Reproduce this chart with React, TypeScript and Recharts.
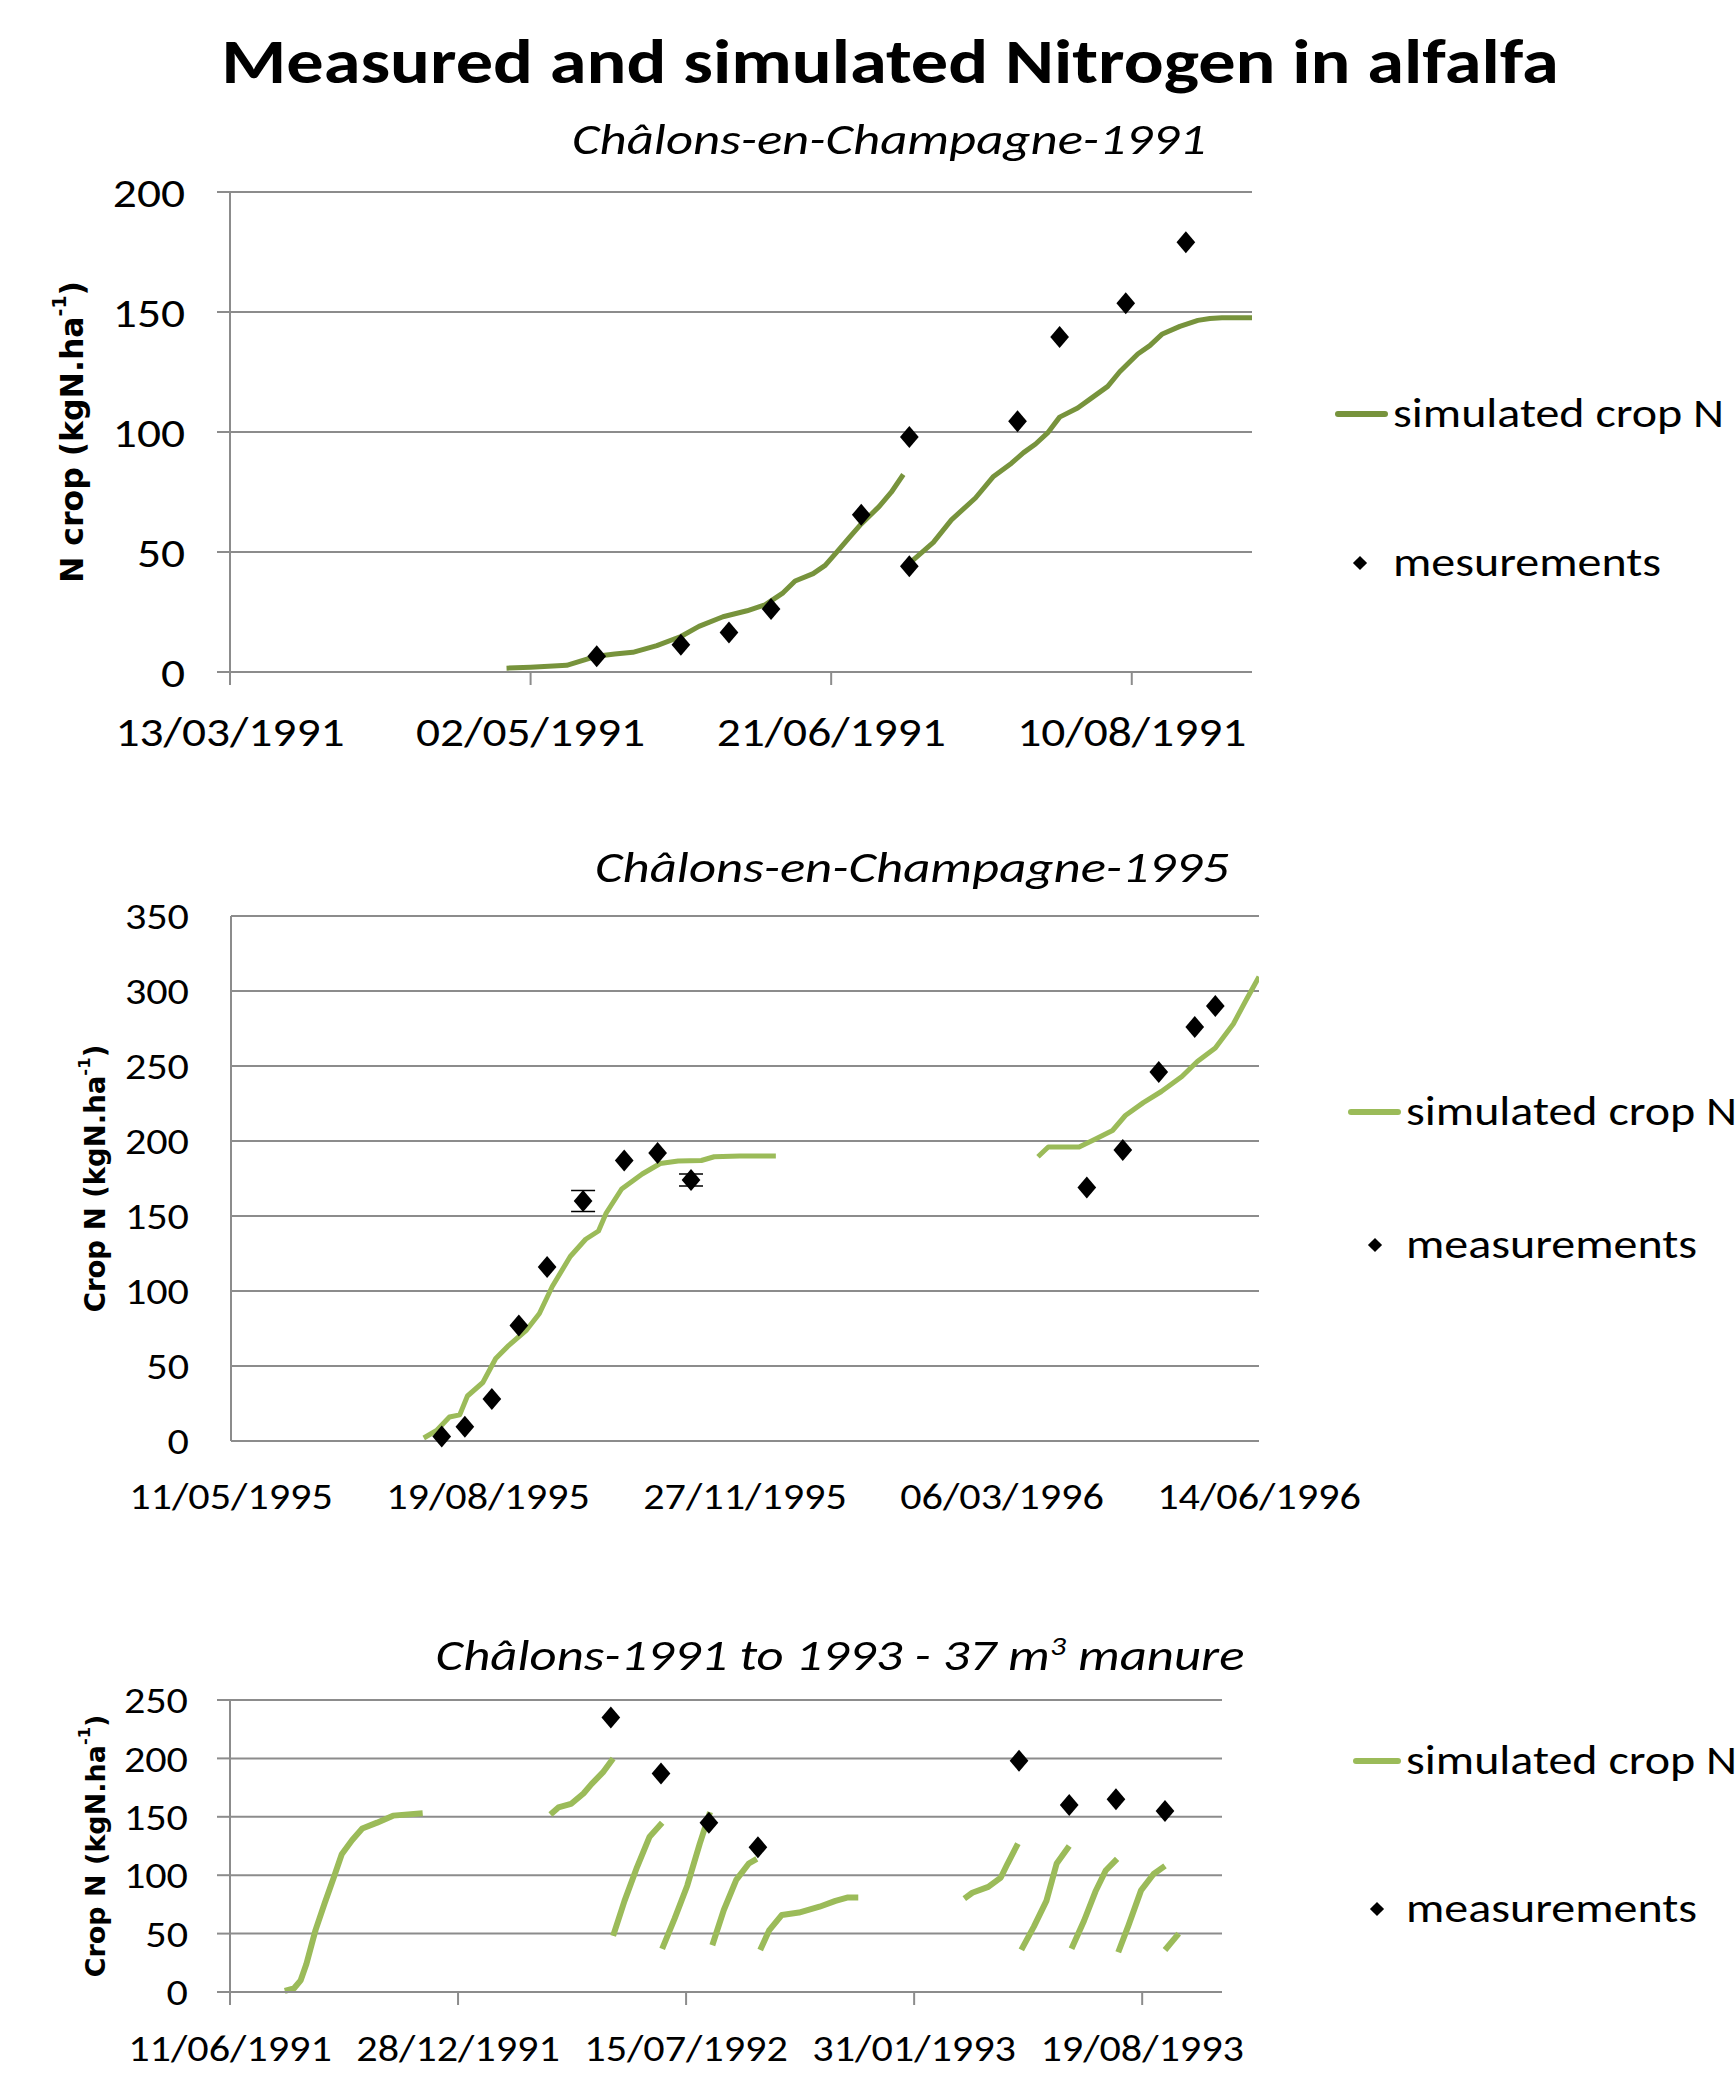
import React from "react";
import {
  ComposedChart,
  Line,
  Scatter,
  XAxis,
  YAxis,
  CartesianGrid,
  ErrorBar,
} from "recharts";

// ---- data (x values are days since the first tick label of each panel) ----

// Châlons-en-Champagne-1991 (days since 13/03/1991)
const ticks1991 = ["13/03/1991", "02/05/1991", "21/06/1991", "10/08/1991"];
const sim1991aDays = [46, 50, 56, 61, 64, 67, 71, 75, 78, 82, 86, 89, 92, 94, 97, 99, 101, 103, 105, 108, 110, 112];
const sim1991aN = [1.6, 2, 2.8, 6.6, 7.5, 8.2, 11, 14.8, 19, 23, 25.5, 28, 33, 37.9, 41, 44.4, 50.2, 56, 61.7, 69, 74.9, 82.3];
const sim1991bDays = [113, 117, 120, 124, 127, 130, 132, 134, 136, 138, 141, 143, 146, 148, 151, 153, 155, 158, 161, 163, 165, 168, 170];
const sim1991bN = [45.3, 54, 63.4, 72.5, 81.5, 87, 91.4, 95, 99.6, 106.2, 110, 113.6, 119, 125.1, 132.5, 136, 140.7, 144, 146.5, 147.3, 147.6, 147.6, 147.6];
const meas1991Days = [61, 75, 83, 90, 105, 113, 113, 131, 138, 149, 159];
const meas1991N = [6.6, 11.4, 16.5, 26.3, 65.5, 97.9, 44.1, 104.5, 139.6, 153.6, 179.1];

// Châlons-en-Champagne-1995 (days since 11/05/1995)
const ticks1995 = ["11/05/1995", "19/08/1995", "27/11/1995", "06/03/1996", "14/06/1996"];
const sim1995aDays = [75, 80, 85, 89, 92, 98, 103, 108, 115, 120, 125, 132, 138, 143, 146, 152, 156, 160, 167, 174, 183, 188, 198, 212];
const sim1995aN = [2, 7, 16, 17.4, 30, 39, 55, 63.6, 74, 85, 103, 123, 134.5, 140, 152, 168, 173, 178, 185, 186.6, 187, 189.5, 190, 190];
const sim1995bDays = [314, 318, 330, 336, 343, 348, 355, 362, 370, 376, 383, 390, 395, 400];
const sim1995bN = [189.5, 196, 196, 201, 207, 217, 225.6, 233, 243, 253, 262, 278, 294, 309.5];
const meas1995Days = [82, 91, 101.5, 112, 123, 137, 153, 166, 179, 333, 347, 361, 375, 383];
const meas1995N = [3, 9.5, 28, 77, 116, 160, 187, 192, 174, 169, 194, 246, 276, 290];
const meas1995Err = [0, 0, 0, 0, 0, 7, 0, 0, 4, 0, 0, 0, 0, 0];

// Châlons-1991 to 1993 - 37 m3 manure (days since 11/06/1991)
const ticksManure = ["11/06/1991", "28/12/1991", "15/07/1992", "31/01/1993", "19/08/1993"];
const simManureDays = [
  [48, 56, 62, 67, 75, 83, 91, 98, 107, 116, 129, 143, 169],
  [281, 288, 299, 310, 317, 327, 336],
  [336, 346, 357, 368, 379],
  [379, 390, 401, 412, 421],
  [423, 433, 444, 455, 462],
  [465, 473, 484, 499, 517, 531, 542, 551],
  [644, 651, 665, 676, 682, 691],
  [694, 705, 716, 725, 736],
  [738, 749, 759, 768, 778],
  [779, 788, 799, 810, 820],
  [820, 832],
];
const simManureN = [
  [1, 3, 10, 24, 53, 76, 98, 118, 130, 140, 145, 151, 153],
  [152, 158, 161, 170, 178, 188, 200],
  [48, 78, 107, 133, 145],
  [37, 63, 91, 127, 154],
  [40, 70, 96, 110, 114],
  [36, 53, 66, 68, 73, 78, 81, 81],
  [80, 85, 90, 98, 110, 127],
  [36, 56, 78, 110, 125],
  [37, 61, 86, 104, 114],
  [34, 57, 87, 101, 108],
  [36, 50],
];
const measManureDays = [334, 378, 420, 463, 692, 736, 777, 820];
const measManureN = [235, 187, 145, 124, 198, 160, 165, 155];

// ---- styling ----
const FONT = "Carlito, Lato, 'Noto Sans', sans-serif";
const AXIS_TITLE_FONT = "'DejaVu Sans', Verdana, sans-serif";
const GRID = "#8c8c8c";
const DARK_GREEN = "#77933C";
const LIGHT_GREEN = "#9BBB59";
// Lato is rounder than Calibri, so text is widened a bit to keep the same footprint
const STRETCH = 1.2;

const dayNumber = (s: string) => {
  const [d, m, y] = s.split("/").map(Number);
  return Date.UTC(y, m - 1, d) / 86400000;
};

const toPoints = (days: number[], n: number[], err?: number[]) =>
  days.map((d, i) => ({ d, v: n[i], err: err ? err[i] : 0 }));

const Diamond = (props: any) => {
  const { cx, cy } = props;
  if (cx == null || cy == null) return null;
  const r = 11;
  return (
    <path
      d={`M${cx},${cy - r}L${cx + r * 0.85},${cy}L${cx},${cy + r}L${cx - r * 0.85},${cy}Z`}
      fill="#000"
    />
  );
};

function StretchTick(props: any) {
  const { x, y, payload, textAnchor, verticalAnchor, size, stretch, format } = props;
  const dy = verticalAnchor === "start" ? "0.71em" : "0.355em";
  return (
    <text
      x={0}
      y={0}
      dy={dy}
      transform={`translate(${x},${y}) scale(${stretch},1)`}
      textAnchor={textAnchor}
      fontSize={size}
      fontFamily={FONT}
      fill="#000"
    >
      {format(payload.value)}
    </text>
  );
}

type PanelProps = {
  top: number;
  width: number;
  height: number;
  margin: { top: number; right: number; bottom: number; left: number };
  yAxisWidth: number;
  xAxisHeight: number;
  tickLabels: string[];
  xMax: number;
  yMax: number;
  yStep: number;
  segments: { d: number; v: number; err: number }[][];
  points: { d: number; v: number; err: number }[];
  color: string;
  lineWidth: number;
  fontSize: number;
  tickStretch: number;
  showTickLines: boolean;
  xTickMargin: number;
  yTickMargin: number;
  yTitle: string;
  yTitleX: number;
  yTitleSize: number;
};

function Panel(p: PanelProps) {
  const start = dayNumber(p.tickLabels[0]);
  const tickDays = p.tickLabels.map((t) => dayNumber(t) - start);
  const yTicks: number[] = [];
  for (let v = 0; v <= p.yMax; v += p.yStep) yTicks.push(v);
  const plotH = p.height - p.margin.top - p.margin.bottom - p.xAxisHeight;
  const cy = p.margin.top + plotH / 2;
  const tickSize = p.showTickLines ? 13 : 1;
  const xLabel = (v: number) => p.tickLabels[tickDays.indexOf(v)] ?? "";

  const renderYTitle = () => (
    <text
      x={p.yTitleX}
      y={cy}
      transform={`rotate(-90 ${p.yTitleX} ${cy})`}
      textAnchor="middle"
      dominantBaseline="central"
      fontFamily={AXIS_TITLE_FONT}
      fontWeight="bold"
      fontSize={p.yTitleSize}
      fill="#000"
    >
      {p.yTitle}
      <tspan fontSize={p.yTitleSize * 0.6} dy={-p.yTitleSize * 0.4}>
        -1
      </tspan>
      <tspan dy={p.yTitleSize * 0.4}>)</tspan>
    </text>
  );

  return (
    <div style={{ position: "absolute", left: 0, top: p.top }}>
      <ComposedChart width={p.width} height={p.height} margin={p.margin}>
        <CartesianGrid vertical={false} stroke={GRID} strokeWidth={2} />
        <XAxis
          dataKey="d"
          type="number"
          domain={[0, p.xMax]}
          allowDataOverflow
          ticks={tickDays}
          interval={0}
          height={p.xAxisHeight}
          tick={(t: any) => (
            <StretchTick {...t} size={p.fontSize} stretch={p.tickStretch} format={xLabel} />
          )}
          tickLine={p.showTickLines ? { stroke: GRID, strokeWidth: 2 } : false}
          tickSize={tickSize}
          tickMargin={p.xTickMargin}
          axisLine={{ stroke: GRID, strokeWidth: 2 }}
        />
        <YAxis
          type="number"
          domain={[0, p.yMax]}
          ticks={yTicks}
          interval={0}
          width={p.yAxisWidth}
          tick={(t: any) => (
            <StretchTick {...t} size={p.fontSize} stretch={p.tickStretch} format={(v: number) => String(v)} />
          )}
          tickLine={p.showTickLines ? { stroke: GRID, strokeWidth: 2 } : false}
          tickSize={tickSize}
          tickMargin={p.yTickMargin}
          axisLine={{ stroke: GRID, strokeWidth: 2 }}
          label={renderYTitle}
        />
        {p.segments.map((seg, i) => (
          <Line
            key={i}
            data={seg}
            dataKey="v"
            type="linear"
            stroke={p.color}
            strokeWidth={p.lineWidth}
            strokeLinejoin="round"
            dot={false}
            activeDot={false}
            legendType="none"
            isAnimationActive={false}
          />
        ))}
        <Scatter
          data={p.points}
          dataKey="v"
          fill="#000"
          shape={(s: any) => <Diamond {...s} />}
          isAnimationActive={false}
        >
          <ErrorBar dataKey="err" direction="y" width={12} stroke="#000" strokeWidth={1.5} />
        </Scatter>
      </ComposedChart>
    </div>
  );
}

function Centered({ x, y, size, bold, italic, children }: any) {
  return (
    <div
      style={{
        position: "absolute",
        left: x,
        top: y,
        transform: `translate(-50%, -50%) scaleX(${STRETCH})`,
        whiteSpace: "nowrap",
        lineHeight: 1,
        fontSize: size,
        fontWeight: bold ? "bold" : "normal",
        fontStyle: italic ? "italic" : "normal",
        fontFamily: FONT,
        color: "#000",
      }}
    >
      {children}
    </div>
  );
}

function LegendBlock({ x1, x2, lineY, dX, dY, textX, color, simLabel, measLabel }: any) {
  const textStyle: React.CSSProperties = {
    position: "absolute",
    left: textX,
    whiteSpace: "nowrap",
    lineHeight: 1,
    fontSize: 40,
    fontFamily: FONT,
    color: "#000",
    transformOrigin: "left center",
    transform: `translateY(-50%) scaleX(${STRETCH})`,
  };
  return (
    <>
      <div
        style={{
          position: "absolute",
          left: x1,
          top: lineY - 3,
          width: x2 - x1,
          height: 6,
          borderRadius: 3,
          background: color,
        }}
      />
      <div style={{ ...textStyle, top: lineY }}>{simLabel}</div>
      <div
        style={{
          position: "absolute",
          left: dX - 5,
          top: dY - 5,
          width: 10,
          height: 10,
          background: "#000",
          transform: "rotate(45deg)",
        }}
      />
      <div style={{ ...textStyle, top: dY }}>{measLabel}</div>
    </>
  );
}

export default function App() {
  return (
    <div
      style={{
        position: "absolute",
        left: 0,
        top: 0,
        width: 1736,
        height: 2076,
        background: "#fff",
        overflow: "hidden",
        fontFamily: FONT,
      }}
    >
      <Centered x={890} y={62} size={62} bold>
        Measured and simulated Nitrogen in alfalfa
      </Centered>

      <Centered x={889} y={139} size={44} italic>
        Châlons-en-Champagne-1991
      </Centered>
      <Panel
        top={140}
        width={1270}
        height={640}
        margin={{ top: 52, right: 18, bottom: 8, left: 0 }}
        yAxisWidth={230}
        xAxisHeight={100}
        tickLabels={ticks1991}
        xMax={170}
        yMax={200}
        yStep={50}
        segments={[toPoints(sim1991aDays, sim1991aN), toPoints(sim1991bDays, sim1991bN)]}
        points={toPoints(meas1991Days, meas1991N)}
        color={DARK_GREEN}
        lineWidth={5}
        fontSize={42}
        tickStretch={1.13}
        showTickLines
        xTickMargin={31}
        yTickMargin={32}
        yTitle="N crop (kgN.ha"
        yTitleX={72}
        yTitleSize={31.5}
      />
      <LegendBlock
        x1={1335}
        x2={1388}
        lineY={414}
        dX={1360}
        dY={563}
        textX={1393}
        color={DARK_GREEN}
        simLabel="simulated crop N"
        measLabel="mesurements"
      />

      <Centered x={912} y={867} size={44} italic>
        Châlons-en-Champagne-1995
      </Centered>
      <Panel
        top={880}
        width={1400}
        height={660}
        margin={{ top: 36, right: 141, bottom: 9, left: 0 }}
        yAxisWidth={231}
        xAxisHeight={90}
        tickLabels={ticks1995}
        xMax={400}
        yMax={350}
        yStep={50}
        segments={[toPoints(sim1995aDays, sim1995aN), toPoints(sim1995bDays, sim1995bN)]}
        points={toPoints(meas1995Days, meas1995N, meas1995Err)}
        color={LIGHT_GREEN}
        lineWidth={5}
        fontSize={37}
        tickStretch={1.14}
        showTickLines={false}
        xTickMargin={41}
        yTickMargin={41}
        yTitle="Crop N (kgN.ha"
        yTitleX={95}
        yTitleSize={27.5}
      />
      <LegendBlock
        x1={1348}
        x2={1401}
        lineY={1112}
        dX={1375}
        dY={1245}
        textX={1406}
        color={LIGHT_GREEN}
        simLabel="simulated crop N"
        measLabel="measurements"
      />

      <Centered x={840} y={1655} size={44} italic>
        Châlons-1991 to 1993 - 37 m<sup style={{ fontSize: "0.6em" }}>3</sup> manure
      </Centered>
      <Panel
        top={1650}
        width={1300}
        height={426}
        margin={{ top: 50, right: 78, bottom: 4, left: 0 }}
        yAxisWidth={230}
        xAxisHeight={80}
        tickLabels={ticksManure}
        xMax={870}
        yMax={250}
        yStep={50}
        segments={simManureDays.map((days, i) => toPoints(days, simManureN[i]))}
        points={toPoints(measManureDays, measManureN)}
        color={LIGHT_GREEN}
        lineWidth={6}
        fontSize={37}
        tickStretch={1.14}
        showTickLines
        xTickMargin={30}
        yTickMargin={29}
        yTitle="Crop N (kgN.ha"
        yTitleX={95}
        yTitleSize={27}
      />
      <LegendBlock
        x1={1353}
        x2={1401}
        lineY={1761}
        dX={1377}
        dY={1909}
        textX={1406}
        color={LIGHT_GREEN}
        simLabel="simulated crop N"
        measLabel="measurements"
      />
    </div>
  );
}
